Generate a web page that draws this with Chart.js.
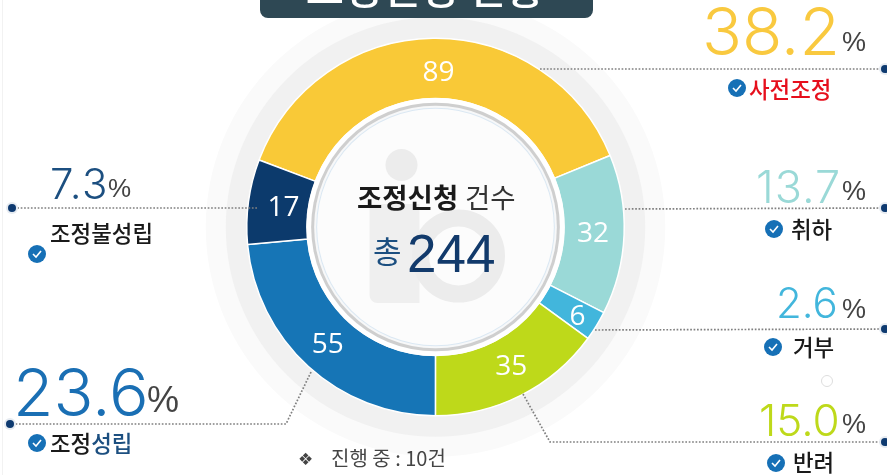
<!DOCTYPE html>
<html lang="ko"><head><meta charset="utf-8">
<script src="https://cdn.jsdelivr.net/npm/chart.js@4"></script>
<style>html,body{margin:0;padding:0;background:#fff;overflow:hidden}#w{position:relative;width:887px;height:475px}</style>
</head><body><div id="w"><canvas id="c" width="887" height="475"></canvas></div>
<script>
const categories = ['사전조정','취하','거부','반려','조정성립','조정불성립'];
const counts = [89,32,6,35,55,17];
const shares = ['38.2','13.7','2.6','15.0','23.6','7.3'];
const totalLabel = '244';
const pendingLabel = '진행 중 : 10건';
const titleText = '조정신청 현황';

const sliceColors = ['#f9c937','#9ad9d7','#42b6dc','#bed91a','#1675b6','#0c3a6c'];
const KR = '"Noto Sans CJK KR","Noto Sans",sans-serif';
const NUM = 'Inter,"Open Sans",sans-serif';

// nudges of the slice numbers from their arc's centre
const countNudge = [[5,5],[-1,1],[7,7],[4,-1],[-1,1],[5,2]];
// [index, x, baseline, size, colour, pctX, pctBaseline, pctSize, spacing]
const shareLayout = [
 [0,702,55,66,'#f9c93f',842,51,27,0],
 [1,756,203,45,'#9ad9d7',842,200,27,1],
 [2,776,318,42,'#42b6dc',842,318,27,0],
 [3,759,436,44,'#bed91a',842,433,27,0],
 [4,13,416,66,'#1a6fb4',147,412,36,0],
 [5,50,199,42,'#1c4f80',108,197,26,1.5]
];
// [index, x, middle y, icon x, icon y, colour]
const labelLayout = [
 [0,749,89,737,88,'#e60f1c'],
 [1,791,229,774,229,'#1a1a1a'],
 [2,793,347,773,347,'#1a1a1a'],
 [3,793,462,776,463,'#1a1a1a'],
 [4,50,443,37,443,'#1a1a1a'],
 [5,50,233,37,254,'#1a1a1a']
];
const leaderPaths = [
 [[540,69],[884,69]],
 [[625,209],[884,208]],
 [[595,330],[884,329]],
 [[523,394],[550,442],[884,442]],
 [[311,372],[286,424],[10,424]],
 [[257,208],[12,208]]
];

function txt(ctx,s,x,y,font,color,align,base){
  ctx.font=font;ctx.fillStyle=color;ctx.textAlign=align||'left';ctx.textBaseline=base||'alphabetic';ctx.fillText(s,x,y);
}
function disc(ctx,x,y,r,c){ctx.beginPath();ctx.arc(x,y,r,0,Math.PI*2);ctx.fillStyle=c;ctx.fill();}

const decor = {
  id:'decor',
  beforeDatasetsDraw(chart){
    const ctx=chart.ctx, a=chart.getDatasetMeta(0).data[0], R=a.outerRadius;
    ctx.save();
    disc(ctx,a.x,a.y,R+41,'#fafafa');
    disc(ctx,a.x,a.y,R+21,'#f1f1f1');
    ctx.beginPath();ctx.roundRect(260,-12,333,30,8);ctx.fillStyle='#2e4854';ctx.fill();
    txt(ctx,titleText,425,4,'500 41.5px '+KR,'#ffffff','center');
    ctx.restore();
  },
  afterDatasetsDraw(chart){
    const ctx=chart.ctx, meta=chart.getDatasetMeta(0), a=meta.data[0], r=a.innerRadius, cx=a.x, cy=a.y;
    ctx.save();
    disc(ctx,cx,cy,r+1,'#ffffff');
    disc(ctx,cx,cy,r-4,'#cfcfcf');
    disc(ctx,cx,cy,r-7,'#f7f8f9');
    disc(ctx,cx,cy,r-9,'#dbe8f3');
    disc(ctx,cx,cy,r-10,'#fcfcfc');
    // watermark
    disc(ctx,cx-34,cy-62,16,'#ececec');
    ctx.beginPath();ctx.roundRect(cx-66,cy-23,50,99,[0,0,0,8]);ctx.fillStyle='#efefef';ctx.fill();
    ctx.beginPath();ctx.arc(cx+23,cy+29,38,0,Math.PI*2);ctx.lineWidth=17;ctx.strokeStyle='#ececec';ctx.stroke();
    // slice numbers
    meta.data.forEach((arc,i)=>{
      const p=arc.tooltipPosition();
      txt(ctx,String(counts[i]),p.x+countNudge[i][0],p.y+countNudge[i][1],'400 28px "Open Sans",sans-serif','#ffffff','center','middle');
    });
    // centre text
    txt(ctx,'조정신청',357,208,'700 27.5px '+KR,'#1a1a1a');
    txt(ctx,'건수',465,208,'400 27.5px '+KR,'#333333');
    txt(ctx,'총',373,263,'400 31px '+KR,'#1c4f80');
    txt(ctx,totalLabel,407,272,'400 53px "Liberation Sans",sans-serif','#123a6b');
    // leaders
    ctx.setLineDash([1.7,1.7]);ctx.lineWidth=1.7;ctx.strokeStyle='#808080';
    leaderPaths.forEach(p=>{ctx.beginPath();p.forEach((q,i)=>i?ctx.lineTo(q[0],q[1]):ctx.moveTo(q[0],q[1]));ctx.stroke();});
    ctx.setLineDash([]);
    leaderPaths.forEach(p=>{const e=p[p.length-1];disc(ctx,e[0]+(e[0]>400?1:0),e[1],6,'#e6ebf1');disc(ctx,e[0]+(e[0]>400?1:0),e[1],4,'#0e3a70');});
    // shares
    shareLayout.forEach(l=>{
      ctx.letterSpacing=l[8]+'px';
      txt(ctx,shares[l[0]],l[1],l[2],'300 '+l[3]+'px '+NUM,l[4]);
      ctx.letterSpacing='0px';
      txt(ctx,'%',l[5],l[6],'400 '+l[7]+'px "Liberation Sans",sans-serif','#444444');
    });
    // labels and ticks
    labelLayout.forEach(l=>{
      const name=categories[l[0]];
      if(name==='조정성립'){
        txt(ctx,'조정',l[1],l[2],'500 22.4px '+KR,'#1a1a1a','left','middle');
        const w=ctx.measureText('조정').width;
        txt(ctx,'성립',l[1]+w,l[2],'500 22.4px '+KR,'#1c4f80','left','middle');
      } else txt(ctx,name,l[1],l[2],'500 22.4px '+KR,l[5],'left','middle');
      disc(ctx,l[3],l[4],9,'#1670b6');
      ctx.beginPath();ctx.moveTo(l[3]-4,l[4]);ctx.lineTo(l[3]-1,l[4]+3);ctx.lineTo(l[3]+4,l[4]-3);
      ctx.lineWidth=1.6;ctx.strokeStyle='#fff';ctx.stroke();
    });
    ctx.beginPath();ctx.arc(827,381,5.5,0,Math.PI*2);ctx.lineWidth=1;ctx.strokeStyle='#dddddd';ctx.stroke();
    // pending note
    txt(ctx,'❖',298,465,'400 17px "DejaVu Sans",sans-serif','#444444');
    txt(ctx,pendingLabel,331,466,'400 20px '+KR,'#444444');
    ctx.fillStyle='#f2f2f2';ctx.fillRect(2,0,1,475);
    ctx.restore();
  }
};

new Chart(document.getElementById('c'),{
  type:'doughnut',
  data:{labels:categories,datasets:[{data:counts,backgroundColor:sliceColors,borderColor:'#ffffff',borderWidth:1.5,hoverOffset:0}]},
  options:{
    responsive:false,animation:false,rotation:-69.2,cutout:'68%',
    layout:{padding:{left:246,right:262,top:37,bottom:58}},
    plugins:{legend:{display:false},tooltip:{enabled:false},title:{display:false}}
  },
  plugins:[decor]
});
</script></body></html>
